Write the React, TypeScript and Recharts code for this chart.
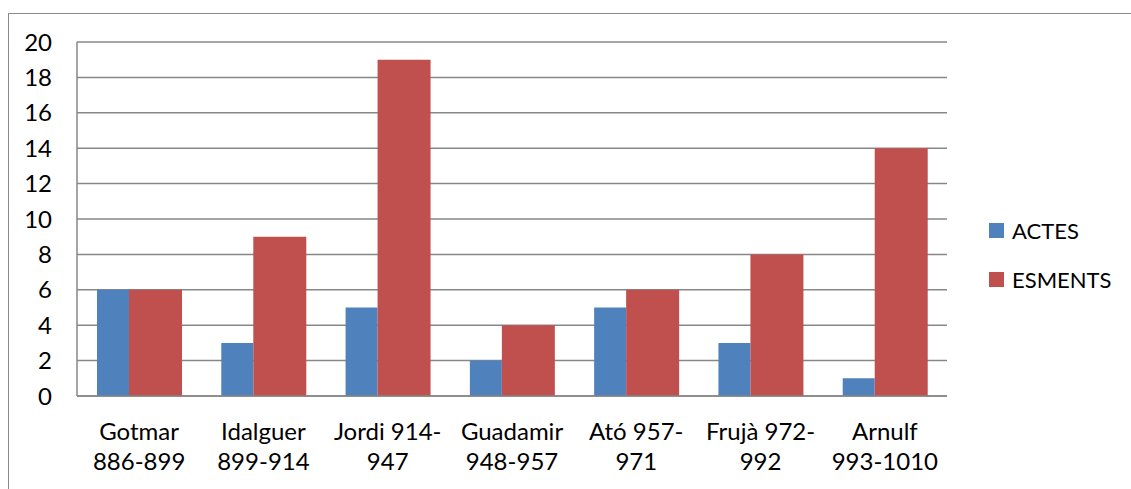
import React from "react";
import { BarChart, Bar, XAxis, YAxis, CartesianGrid } from "recharts";

const categories = [
  "Gotmar|886-899",
  "Idalguer|899-914",
  "Jordi 914-|947",
  "Guadamir|948-957",
  "Ató 957-|971",
  "Frujà 972-|992",
  "Arnulf|993-1010",
];
const actes = [6, 3, 5, 2, 5, 3, 1];
const esments = [6, 9, 19, 4, 6, 8, 14];
const yTicks = [0, 2, 4, 6, 8, 10, 12, 14, 16, 18, 20];
const seriesNames = ["ACTES", "ESMENTS"];
const seriesColors = ["#4F81BD", "#C0504D"];

const data = categories.map((c, i) => ({ name: c, ACTES: actes[i], ESMENTS: esments[i] }));

const FONT = "Lato, 'Open Sans', sans-serif";
const GRID = "#878787";

const XTick = (props: any) => {
  const { x, y, payload } = props;
  const lines = String(payload.value).split("|");
  return (
    <text x={x} textAnchor="middle" fill="#000" fontSize={24} fontFamily={FONT}>
      {lines.map((l, i) => (
        <tspan key={i} x={x} y={y + 44 + i * 30}>
          {l}
        </tspan>
      ))}
    </text>
  );
};

export default function App() {
  return (
    <div
      style={{
        position: "fixed",
        left: 0,
        top: 0,
        width: 1131,
        height: 489,
        overflow: "hidden",
        background: "#fff",
      }}
    >
      <div
        style={{
          position: "absolute",
          left: 8,
          top: 13,
          width: 1200,
          height: 600,
          borderLeft: "1.5px solid #8a8a8a",
          borderTop: "1.5px solid #8a8a8a",
        }}
      />
      <div style={{ position: "absolute", left: 0, top: 0 }}>
        <BarChart
          width={1131}
          height={489}
          data={data}
          margin={{ top: 42, right: 184, bottom: 0, left: 0 }}
          barGap={0}
        >
          <CartesianGrid vertical={false} stroke={GRID} strokeWidth={1.5} />
          <XAxis
            dataKey="name"
            tick={<XTick />}
            tickLine={false}
            axisLine={{ stroke: GRID, strokeWidth: 1.5 }}
            height={93}
            interval={0}
            tickSize={0}
            tickMargin={0}
          />
          <YAxis
            domain={[0, 20]}
            ticks={yTicks}
            width={77}
            tickLine={false}
            tickSize={0}
            tickMargin={25}
            axisLine={{ stroke: GRID, strokeWidth: 1.5 }}
            tick={{ fill: "#000", fontSize: 24, fontFamily: FONT }}
            interval={0}
          />
          <Bar dataKey="ACTES" fill={seriesColors[0]} barSize={32} isAnimationActive={false} />
          <Bar dataKey="ESMENTS" fill={seriesColors[1]} barSize={53} isAnimationActive={false} />
        </BarChart>
      </div>
      <div
        style={{
          position: "absolute",
          left: 989,
          top: 206,
          fontFamily: FONT,
          fontSize: 22,
          color: "#000",
        }}
      >
        {seriesNames.map((n, i) => (
          <div key={n} style={{ display: "flex", alignItems: "center", height: 49 }}>
            <div style={{ width: 15, height: 15, background: seriesColors[i], marginRight: 8 }} />
            <span>{n}</span>
          </div>
        ))}
      </div>
    </div>
  );
}
